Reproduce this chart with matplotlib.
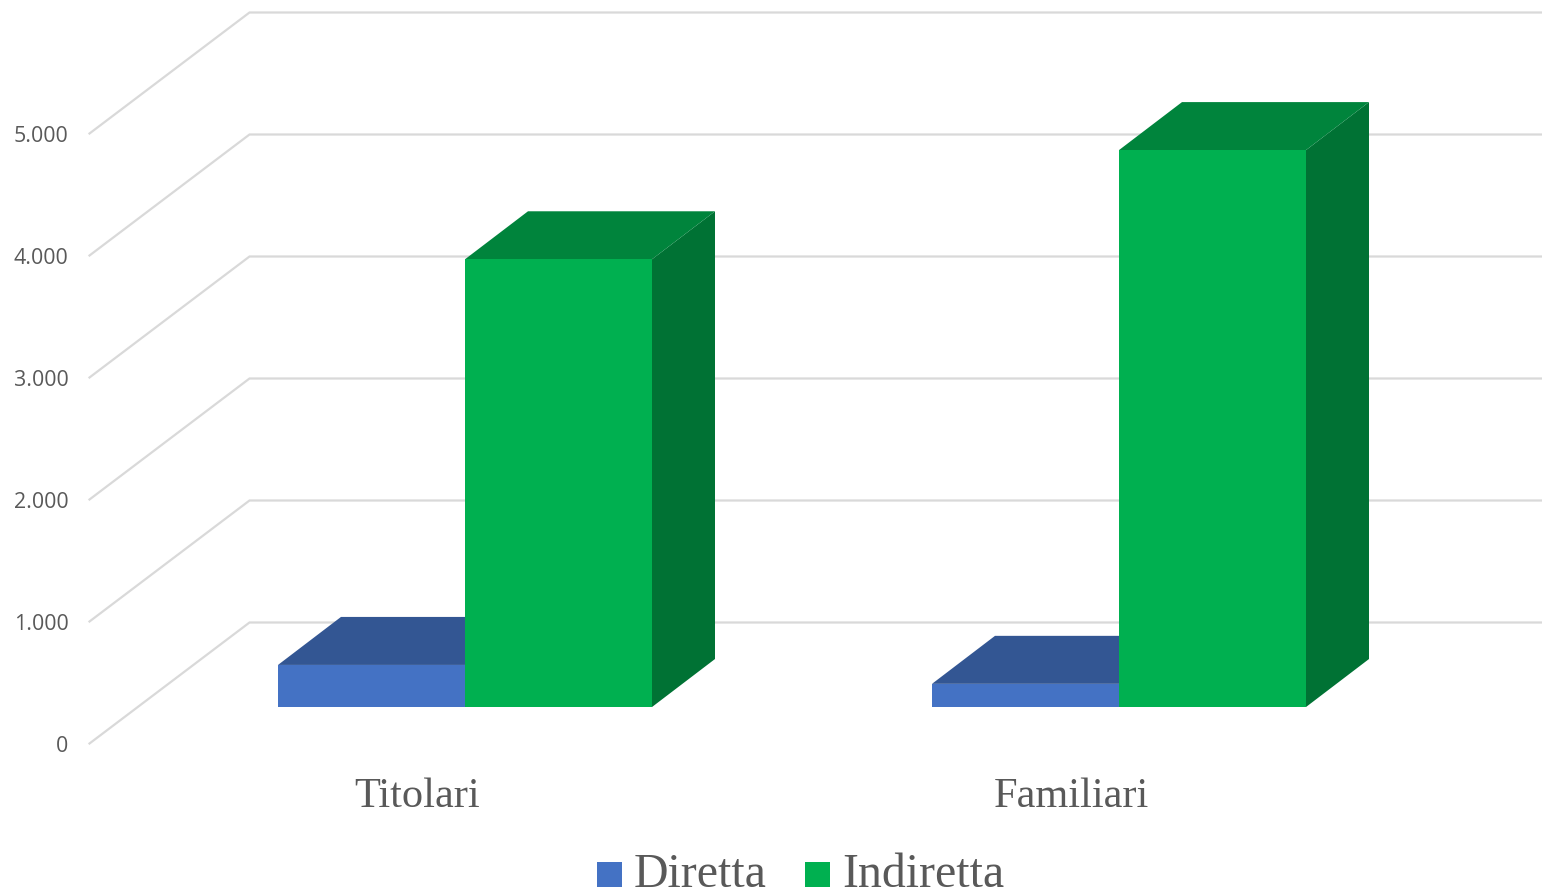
import matplotlib
matplotlib.use("Agg")
import matplotlib.pyplot as plt
from matplotlib.patches import Polygon

categories = ["Titolari", "Familiari"]
diretta = [345, 190]
indiretta = [3670, 4565]
value_ticks = [0, 1000, 2000, 3000, 4000, 5000]
tick_labels = ["0", "1.000", "2.000", "3.000", "4.000", "5.000"]
series_names = ["Diretta", "Indiretta"]

W, H = 1542, 892
PX_PER_UNIT = 0.122
Y0 = 743.5

fig = plt.figure(figsize=(W / 100, H / 100), dpi=100)
ax = fig.add_axes([0, 0, 1, 1])
ax.set_xlim(0, W)
ax.set_ylim((Y0 - H) / PX_PER_UNIT, Y0 / PX_PER_UNIT)
ax.axis("off")

DEPTH_X, DEPTH_Y = 160, 121 / PX_PER_UNIT
GRID_L, GRID_R = 89.5, 1542


def darken(c, f):
    return tuple(v * f for v in matplotlib.colors.to_rgb(c))


for v, lab in zip(value_ticks, tick_labels):
    ax.plot([GRID_L, GRID_L + DEPTH_X, GRID_R], [v, v + DEPTH_Y, v + DEPTH_Y],
            color="#d9d9d9", lw=1.6, zorder=1, solid_joinstyle="miter")
    ax.text(68.5, v - 28, lab, ha="right", va="center", fontsize=15.4,
            family="Open Sans", color="#595959")

# bars
BAR_W = 187
BASE = 299  # value level of the front bottom edge
BAR_DX, BAR_DY = 63, 48 / PX_PER_UNIT
LEFT = [278, 932]
COLORS = ["#4472c4", "#00b050"]


def bar(x, h, color, z):
    b, t = BASE, BASE + h
    r = x + BAR_W
    ax.add_patch(Polygon([(r, b), (r + BAR_DX, b + BAR_DY), (r + BAR_DX, t + BAR_DY), (r, t)],
                         fc=darken(color, 0.65), ec="none", zorder=z))
    ax.add_patch(Polygon([(x, t), (x + BAR_DX, t + BAR_DY), (r + BAR_DX, t + BAR_DY), (r, t)],
                         fc=darken(color, 0.75), ec="none", zorder=z))
    ax.add_patch(Polygon([(x, b), (r, b), (r, t), (x, t)], fc=color, ec="none", zorder=z + 0.5))


for i, name in enumerate(categories):
    bar(LEFT[i], diretta[i], COLORS[0], 2)
    bar(LEFT[i] + BAR_W, indiretta[i], COLORS[1], 3)
    ax.text(LEFT[i] + BAR_W - 48, (Y0 - 807) / PX_PER_UNIT, name,
            ha="center", va="baseline", fontsize=30.5, family="Liberation Serif", color="#595959")

# legend
for x, name, c in zip([597, 805], series_names, COLORS):
    s = 25 / PX_PER_UNIT
    y = (Y0 - 887) / PX_PER_UNIT
    ax.add_patch(Polygon([(x, y), (x + 25, y), (x + 25, y + s), (x, y + s)], fc=c, ec="none"))
    ax.text(x + 37, (Y0 - 887) / PX_PER_UNIT, name, ha="left", va="baseline", fontsize=34.5,
            family="Liberation Serif", color="#595959")

fig.savefig("out.png", dpi=100)
